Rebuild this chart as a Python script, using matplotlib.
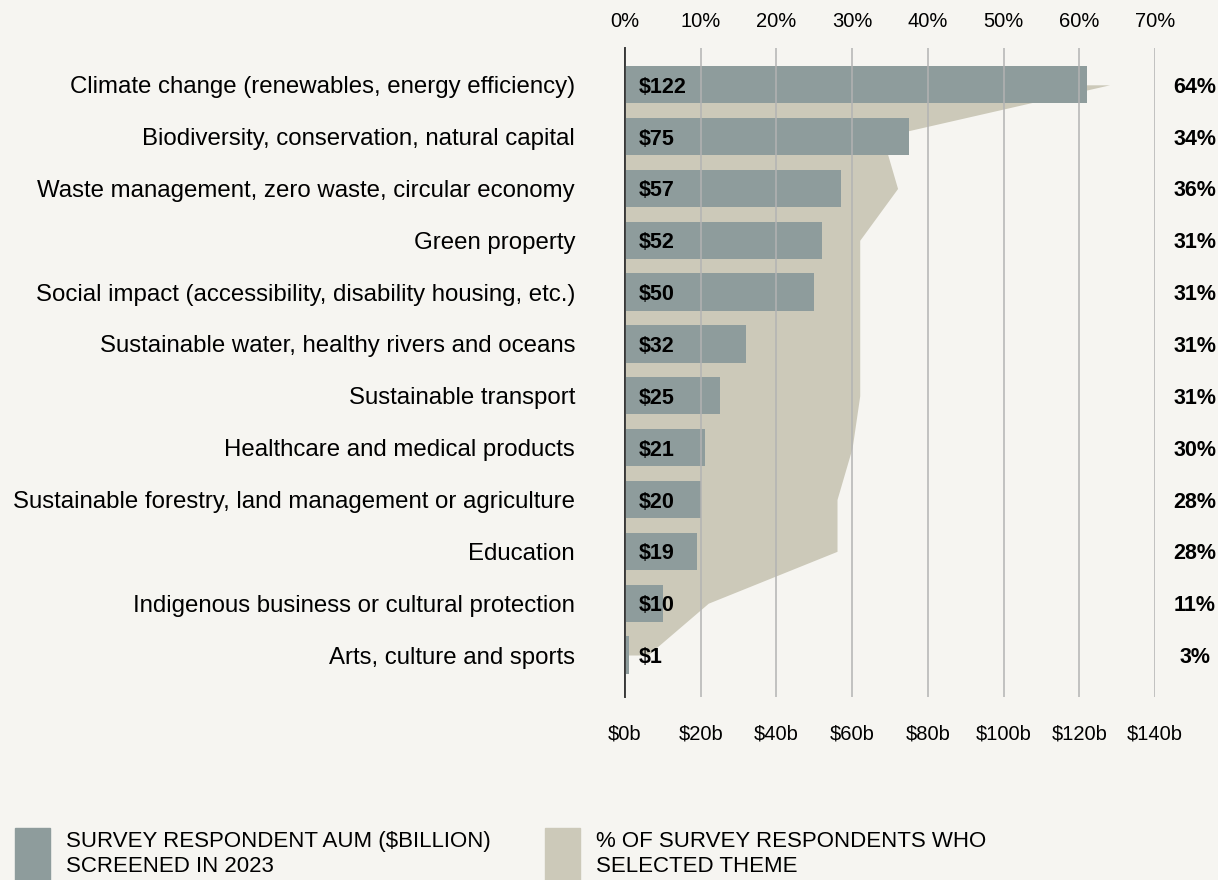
"""Sustainable investment themes: AUM screened vs share of respondents."""

import matplotlib

matplotlib.use("Agg")

import matplotlib.pyplot as plt
import numpy as np
from matplotlib.patches import Rectangle

plt.rcParams["font.family"] = ["Liberation Sans", "DejaVu Sans"]

themes = [
    "Climate change (renewables, energy efficiency)",
    "Biodiversity, conservation, natural capital",
    "Waste management, zero waste, circular economy",
    "Green property",
    "Social impact (accessibility, disability housing, etc.)",
    "Sustainable water, healthy rivers and oceans",
    "Sustainable transport",
    "Healthcare and medical products",
    "Sustainable forestry, land management or agriculture",
    "Education",
    "Indigenous business or cultural protection",
    "Arts, culture and sports",
]
aum_billion = [122, 75, 57, 52, 50, 32, 25, 21, 20, 19, 10, 1]
pct_selected = [64, 34, 36, 31, 31, 31, 31, 30, 28, 28, 11, 3]

pct_ticks = [0, 10, 20, 30, 40, 50, 60, 70]
aum_ticks = [0, 20, 40, 60, 80, 100, 120, 140]

BG = "#f6f5f1"
BAR = "#8e9c9c"
AREA = "#ccc9b9"
GRID = "#b3b3b3"

fig = plt.figure(figsize=(12.18, 8.8), dpi=100, facecolor=BG)
ax = fig.add_axes([625 / 1218, 1 - 697 / 880, 530 / 1218, (697 - 48) / 880])
ax.set_facecolor(BG)

y = np.arange(len(themes))

# percentage area on the top axis
ax.fill_betweenx(y, 0, pct_selected, color=AREA, linewidth=0, zorder=1)
ax.set_xlim(0, 70)
ax.set_ylim(len(themes) - 1 + 0.81, -0.71)
ax.set_yticks(y)
ax.set_yticklabels(themes, fontsize=17.3)
ax.tick_params(axis="y", length=0, pad=36)
for side in ["top", "right", "bottom"]:
    ax.spines[side].set_visible(False)
ax.spines["left"].set_color("#333333")
ax.spines["left"].set_linewidth(1.2)

# AUM bars on the bottom axis
axb = ax.twiny()
axb.barh(y, aum_billion, height=0.72, color=BAR, zorder=2)
axb.set_xlim(0, 140)
axb.xaxis.set_ticks_position("bottom")
axb.xaxis.set_label_position("bottom")
axb.set_xticks(aum_ticks)
axb.set_xticklabels([f"${t}b" for t in aum_ticks], fontsize=14.5)
axb.tick_params(axis="x", length=0, pad=20)
for side in ["top", "right", "bottom", "left"]:
    axb.spines[side].set_visible(False)
for t in aum_ticks:
    axb.axvline(t, color=GRID, linewidth=1.1, zorder=3)
axb.spines["left"].set_visible(True)
axb.spines["left"].set_color("#333333")
axb.spines["left"].set_linewidth(1.2)
axb.spines["left"].set_zorder(4)

# twiny moves the original ticks to the bottom, so set the top ones afterwards
ax.xaxis.set_ticks_position("top")
ax.xaxis.set_label_position("top")
ax.set_xticks(pct_ticks)
ax.set_xticklabels([f"{t}%" for t in pct_ticks], fontsize=14.5)
ax.tick_params(axis="x", length=0, pad=12)

for yi, v, p in zip(y, aum_billion, pct_selected):
    axb.text(3.7, yi, f"${v}", ha="left", va="center_baseline", fontsize=15.5,
             fontweight="bold", zorder=5)
    axb.text(150.5, yi, f"{p}%", ha="center", va="center_baseline", fontsize=15.5,
             fontweight="bold", clip_on=False)

# legend
fig.patches.append(Rectangle((15 / 1218, 0), 35 / 1218, 52 / 880,
                             transform=fig.transFigure, color=BAR))
fig.patches.append(Rectangle((545 / 1218, 0), 35 / 1218, 52 / 880,
                             transform=fig.transFigure, color=AREA))
fig.text(66 / 1218, 1 - 854 / 880, "SURVEY RESPONDENT AUM ($BILLION)\nSCREENED IN 2023",
         ha="left", va="center", fontsize=16, linespacing=1.2)
fig.text(596 / 1218, 1 - 854 / 880, "% OF SURVEY RESPONDENTS WHO\nSELECTED THEME",
         ha="left", va="center", fontsize=16, linespacing=1.2)

fig.savefig("out.png", dpi=100, facecolor=BG)
